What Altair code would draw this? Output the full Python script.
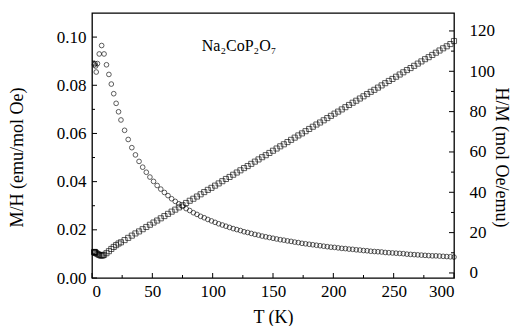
import altair as alt
import pandas as pd

# ---- data ----
T_low_circ = [2.0, 2.5, 3.0, 3.5, 4.5, 6.0, 8.0, 10.0, 12.0, 14.0, 16.0, 18.0, 20.0, 22.0]
MH_low = [0.0885, 0.0890, 0.0880, 0.0855, 0.0890, 0.0930, 0.0965, 0.0930, 0.0885,
          0.0845, 0.0805, 0.0765, 0.0725, 0.0690]
T_low_sq = [1.8, 2.0, 2.3, 2.6, 3.0, 4.0, 5.0, 6.0, 7.0, 8.0, 9.0, 10.0, 12.0, 14.0,
            16.0, 18.0, 20.0, 22.0]
HM_low = [10.4, 10.2, 10.4, 10.0, 10.1, 9.6, 9.3, 8.9, 8.7, 8.6, 8.7, 9.0, 9.8, 10.8,
          11.9, 12.9, 13.8, 14.6]

T_high = [24, 27, 30, 33, 36, 39, 42, 45, 48, 51, 54, 57, 60, 63, 66, 69, 72, 75, 78, 81,
          84, 87, 90, 93, 96, 99, 102, 105, 108, 111, 114, 117, 120, 123, 126, 129, 132,
          135, 138, 141, 144, 147, 150, 153, 156, 159, 162, 165, 168, 171, 174, 177, 180,
          183, 186, 189, 192, 195, 198, 201, 204, 207, 210, 213, 216, 219, 222, 225, 228,
          231, 234, 237, 240, 243, 246, 249, 252, 255, 258, 261, 264, 267, 270, 273, 276,
          279, 282, 285, 288, 291, 294, 297, 300]
MH_high = [0.0656, 0.0613, 0.0575, 0.0541, 0.0511, 0.0484, 0.0460, 0.0439, 0.0419, 0.0401,
           0.0384, 0.0369, 0.0355, 0.0342, 0.0329, 0.0318, 0.0308, 0.0298, 0.0288, 0.0280,
           0.0271, 0.0264, 0.0256, 0.0250, 0.0243, 0.0237, 0.0231, 0.0225, 0.0220, 0.0215,
           0.0210, 0.0205, 0.0201, 0.0197, 0.0192, 0.0189, 0.0185, 0.0181, 0.0178, 0.0174,
           0.0171, 0.0168, 0.0165, 0.0162, 0.0159, 0.0157, 0.0154, 0.0152, 0.0149, 0.0147,
           0.0144, 0.0142, 0.0140, 0.0138, 0.0136, 0.0134, 0.0132, 0.0130, 0.0128, 0.0127,
           0.0125, 0.0123, 0.0122, 0.0120, 0.0119, 0.0117, 0.0116, 0.0114, 0.0113, 0.0111,
           0.0110, 0.0109, 0.0108, 0.0106, 0.0105, 0.0104, 0.0103, 0.0102, 0.0101, 0.0099,
           0.0098, 0.0097, 0.0096, 0.0095, 0.0094, 0.0093, 0.0092, 0.0092, 0.0091, 0.0090,
           0.0089, 0.0088, 0.0087]
HM_high = [15.2, 16.3, 17.4, 18.5, 19.6, 20.6, 21.7, 22.8, 23.9, 25.0,
           26.0, 27.1, 28.2, 29.3, 30.4, 31.4, 32.5, 33.6, 34.7, 35.8,
           36.8, 37.9, 39.0, 40.1, 41.2, 42.2, 43.3, 44.4, 45.5, 46.6,
           47.6, 48.7, 49.8, 50.9, 52.0, 53.0, 54.1, 55.2, 56.3, 57.4,
           58.4, 59.5, 60.6, 61.7, 62.8, 63.8, 64.9, 66.0, 67.1, 68.2,
           69.2, 70.3, 71.4, 72.5, 73.6, 74.6, 75.7, 76.8, 77.9, 79.0,
           80.0, 81.1, 82.2, 83.3, 84.4, 85.4, 86.5, 87.6, 88.7, 89.8,
           90.8, 91.9, 93.0, 94.1, 95.2, 96.2, 97.3, 98.4, 99.5, 100.6,
           101.6, 102.7, 103.8, 104.9, 106.0, 107.0, 108.1, 109.2, 110.3, 111.4,
           112.4, 113.5, 115.0]

x_major = [0, 50, 100, 150, 200, 250, 300]
x_minor = [25, 75, 125, 175, 225, 275]
l_major = [0.0, 0.02, 0.04, 0.06, 0.08, 0.10]
l_minor = [0.01, 0.03, 0.05, 0.07, 0.09]
r_major = [0, 20, 40, 60, 80, 100, 120]
r_minor = [10, 30, 50, 70, 90, 110]

label_T = [91]
label_v = [0.0965]
label_txt = ["Na\u2082CoP\u2082O\u2087"]

# ---- chart ----
circ = pd.DataFrame({"T": T_low_circ + T_high, "MH": MH_low + MH_high})
sq = pd.DataFrame({"T": T_low_sq + T_high, "HM": HM_low + HM_high})

FONT = "Liberation Serif"
W, H = 362, 265

xscale = alt.Scale(domain=[0, 300], nice=False, zero=False)
lscale = alt.Scale(domain=[0, 0.11], nice=False, zero=False)
rscale = alt.Scale(domain=[-2.5, 128.9], nice=False, zero=False)

common = dict(ticks=False, domain=False, grid=False)

x_axis = alt.Axis(title="T (K)", orient="bottom", values=x_major, format="d", labelPadding=5,
                  titleBaseline="middle", titleY=39, **common)
l_axis = alt.Axis(title="M/H (emu/mol Oe)", orient="left", values=l_major, format=".2f",
                  labelPadding=6, titleBaseline="middle", titleX=-75, titleY=144, **common)
r_axis = alt.Axis(title="H/M (mol Oe/emu)", orient="right", values=r_major, format="d",
                  labelPadding=15, titleAngle=90, titleBaseline="middle", titleX=46,
                  titleY=144, **common)

circles = alt.Chart(circ).mark_point(shape="circle", filled=False, size=22, color="black",
                                     strokeWidth=0.9).encode(
    x=alt.X("T:Q", scale=xscale, axis=x_axis),
    y=alt.Y("MH:Q", scale=lscale, axis=l_axis),
)

label = alt.Chart(pd.DataFrame({"T": label_T, "MH": label_v, "t": label_txt})).mark_text(
    font=FONT, fontSize=16, color="black", align="left", baseline="middle").encode(
    x=alt.X("T:Q", scale=xscale, axis=x_axis),
    y=alt.Y("MH:Q", scale=lscale, axis=l_axis),
    text="t:N",
)


def vticks(vals, field, scale, axis, x0, x1):
    return alt.Chart(pd.DataFrame({field: vals})).mark_rule(color="black", strokeWidth=1).encode(
        y=alt.Y(f"{field}:Q", scale=scale, axis=axis), x=alt.value(x0), x2=alt.value(x1))


def hticks(vals, length):
    return alt.Chart(pd.DataFrame({"T": vals})).mark_rule(color="black", strokeWidth=1).encode(
        x=alt.X("T:Q", scale=xscale, axis=x_axis), y=alt.value(H), y2=alt.value(H - length))


left = alt.layer(circles, label,
                 vticks(l_major, "MH", lscale, l_axis, 0, 5),
                 vticks(l_minor, "MH", lscale, l_axis, 0, 3),
                 hticks(x_major, 5), hticks(x_minor, 3))

squares = alt.Chart(sq).mark_point(shape="square", filled=False, size=26, color="black",
                                   strokeWidth=0.9).encode(
    x=alt.X("T:Q", scale=xscale, axis=x_axis),
    y=alt.Y("HM:Q", scale=rscale, axis=r_axis),
)

right = alt.layer(squares,
                  vticks(r_major, "HM", rscale, r_axis, W, W - 5),
                  vticks(r_minor, "HM", rscale, r_axis, W, W - 3))

chart = alt.layer(left, right).resolve_scale(y="independent").properties(
    width=W, height=H,
    autosize=alt.AutoSizeParams(type="none"),
    padding={"left": 84, "top": 5, "right": 59, "bottom": 48},
    background="white",
).configure_view(
    stroke="black", strokeWidth=1.3
).configure_axis(
    labelFont=FONT, labelFontSize=17, titleFont=FONT, titleFontSize=18,
    titleFontWeight="normal", labelColor="black", titleColor="black",
).configure_text(font=FONT)

chart.save("out.html", embed_options={"renderer": "svg", "actions": False})
